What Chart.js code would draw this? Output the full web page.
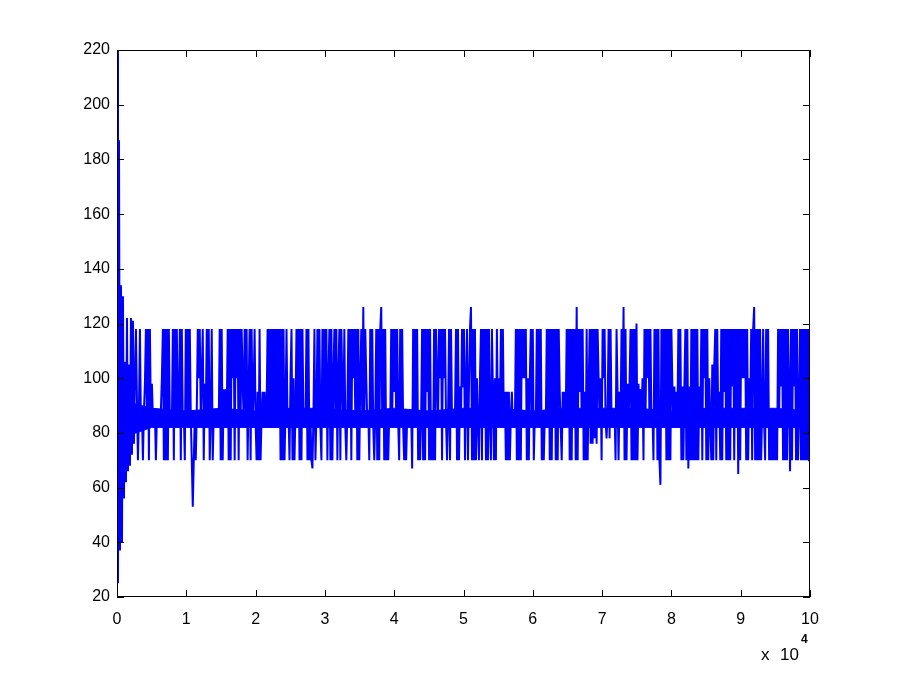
<!DOCTYPE html>
<html>
<head>
<meta charset="utf-8">
<script src="https://cdn.jsdelivr.net/npm/chart.js@4"></script>
<style>
  html, body { margin: 0; padding: 0; background: #fff; }
  canvas { display: block; }
</style>
</head>
<body>
<canvas id="plot" width="897" height="673"></canvas>
<script>
// samples, roughly one per pixel column (x 0 .. 10 x 10^4)
const signal = [
  220, 25, 187, 37, 134, 40, 130, 56, 106, 62, 122, 66, 105, 68, 122, 72, 121, 76, 100, 118,
  92, 70, 88, 118, 83, 88, 70, 88, 98, 118, 84, 118, 70, 118, 84, 98, 86, 82, 88, 70,
  86, 82, 88, 82, 88, 100, 118, 70, 118, 70, 118, 70, 118, 84, 88, 82, 118, 70, 118, 84,
  118, 82, 88, 118, 70, 118, 84, 88, 70, 118, 84, 118, 82, 118, 86, 70, 53, 70, 86, 70,
  88, 118, 100, 118, 86, 100, 118, 70, 98, 84, 118, 84, 118, 70, 86, 118, 70, 86, 82, 88,
  82, 88, 82, 118, 70, 118, 70, 96, 84, 96, 84, 118, 70,
  // 230 .. 350 px
  118, 70, 118, 100, 118, 70, 118, 100, 118, 70, 118, 86, 118, 100, 84, 118, 84, 118, 70, 95,
  118, 70, 118, 84, 95, 118, 84, 70, 95, 70, 118, 70, 86, 95, 82, 95, 82, 88, 118, 82,
  118, 82, 118, 82, 118, 82, 118, 82, 118, 82, 118, 70, 118, 70, 118, 70, 88, 118, 84, 88,
  70, 100, 118, 70, 100, 70, 88, 118, 82, 118, 70, 118, 70, 118, 84, 88, 82, 118, 70, 118,
  70, 86, 70, 67, 86, 118, 70, 86, 118, 84, 118, 82, 70, 118, 84, 118, 84, 118, 70, 100,
  118, 70, 118, 70, 100, 118, 84, 118, 70, 100, 118, 70, 118, 98, 84, 118, 82, 70, 88, 118, 84,
  // 351 .. 470 px
  118, 70, 118, 100, 118, 84, 118, 70, 118, 70, 100, 118, 84, 126, 84, 118, 100, 84, 88, 70,
  118, 84, 118, 82, 70, 86, 118, 70, 118, 70, 118, 126, 84, 118, 70, 118, 70, 86, 70, 86,
  82, 118, 84, 118, 95, 118, 84, 118, 84, 70, 118, 84, 118, 82, 70, 86, 70, 86, 82, 88,
  82, 88, 67, 118, 84, 118, 84, 118, 70, 86, 70, 86, 118, 70, 118, 70, 118, 95, 118, 70,
  118, 70, 86, 70, 118, 70, 118, 100, 84, 118, 100, 118, 70, 118, 100, 118, 84, 70, 86, 118,
  70, 118, 84, 88, 82, 88, 118, 70, 118, 70, 97, 84, 118, 97, 118, 70, 97, 118, 70, 97,
  // 471 .. 590 px
  118, 126, 70, 118, 70, 118, 70, 100, 84, 70, 100, 118, 70, 118, 84, 118, 70, 118, 70, 118,
  84, 70, 118, 95, 70, 100, 70, 118, 82, 100, 84, 118, 84, 118, 82, 95, 70, 95, 70, 95,
  70, 86, 95, 82, 88, 82, 118, 70, 118, 70, 118, 70, 118, 100, 118, 100, 118, 70, 100, 70,
  100, 118, 84, 118, 70, 86, 82, 118, 84, 118, 84, 118, 70, 86, 70, 86, 82, 118, 84, 118,
  70, 118, 70, 118, 84, 118, 70, 118, 70, 118, 95, 82, 70, 95, 82, 95, 84, 118, 84, 118,
  70, 118, 70, 118, 84, 118, 70, 126, 70, 118, 95, 118, 84, 118, 70, 95, 70, 118, 70, 95,
  // 591 .. 702 px
  118, 76, 118, 76, 118, 78, 118, 76, 118, 100, 84, 100, 70, 118, 100, 118, 84, 78, 88, 118,
  78, 118, 84, 88, 82, 88, 70, 118, 95, 70, 95, 84, 118, 84, 126, 70, 118, 70, 98, 84,
  98, 118, 70, 118, 70, 118, 70, 120, 70, 98, 84, 96, 84, 100, 70, 118, 84, 118, 100, 118,
  84, 118, 82, 88, 70, 118, 84, 118, 70, 118, 70, 61, 118, 84, 118, 84, 118, 70, 118, 70,
  118, 70, 118, 97, 82, 97, 82, 95, 84, 118, 84, 118, 70, 97, 70, 97, 118, 70, 118, 67,
  97, 70, 118, 70, 118, 70, 118, 70, 118, 70, 97, 84,
  // 703 .. 810 px
  118, 70, 118, 100, 118, 70, 118, 70, 100, 84, 70, 105, 70, 105, 118, 70, 118, 84, 95, 70,
  118, 70, 118, 95, 118, 70, 118, 70, 118, 70, 118, 97, 118, 70, 118, 84, 118, 65, 118, 70,
  118, 100, 118, 100, 118, 70, 118, 70, 100, 84, 118, 70, 118, 126, 70, 118, 70, 118, 70, 118,
  70, 88, 118, 84, 70, 118, 84, 118, 70, 86, 70, 86, 70, 88, 70, 86, 70, 118, 84, 118,
  97, 118, 70, 118, 70, 118, 70, 118, 97, 66, 118, 70, 118, 97, 118, 70, 118, 70, 88, 118,
  70, 118, 70, 118, 70, 118, 70, 118, 70, 85
];

// dense core of the trace, read every 0.5 x 10^4 (x = 0.5 .. 10)
const coreX = [0.05, 0.5, 1, 1.5, 2, 2.5, 3, 3.5, 4, 4.5, 5, 5.5, 6, 6.5, 7, 7.5, 8, 8.5, 9, 9.5, 10];
const coreLow = [78, 82, 82, 82, 82, 82, 82, 82, 82, 82, 82, 82, 82, 82, 82, 82, 82, 82, 82, 82, 82];
const coreHigh = [92, 89, 88, 89, 88, 89, 89, 88, 89, 88, 89, 89, 88, 89, 89, 89, 88, 89, 89, 89, 88];

const xMax = 100000;
const xStep = 10000;   // axis labels are in units of 10^4
const yMin = 20;
const yMax = 220;
const yStep = 20;

const lineColor = '#0000ff';
const fontFamily = '"Liberation Sans", Arial, Helvetica, sans-serif';

const sampleStep = xMax / (signal.length - 1);
const points = signal.map((v, i) => ({ x: i * sampleStep, y: v }));
const lowPts = coreX.map((x, i) => ({ x: x * xStep, y: coreLow[i] }));
const highPts = coreX.map((x, i) => ({ x: x * xStep, y: coreHigh[i] }));

// MATLAB style box: frame on all sides, ticks pointing inward, x 10^4 note
const matlabBox = {
  id: 'matlabBox',
  afterDraw(chart) {
    const { ctx, chartArea: a, scales: { x, y } } = chart;
    const tick = 7;
    ctx.save();
    ctx.strokeStyle = '#000';
    ctx.lineWidth = 1;
    ctx.strokeRect(a.left + 0.5, a.top + 0.5, a.right - a.left - 1, a.bottom - a.top - 1);
    ctx.beginPath();
    x.ticks.forEach(t => {
      const px = Math.round(x.getPixelForValue(t.value)) + 0.5;
      ctx.moveTo(px, a.bottom); ctx.lineTo(px, a.bottom - tick);
      ctx.moveTo(px, a.top); ctx.lineTo(px, a.top + tick);
    });
    y.ticks.forEach(t => {
      const py = Math.round(y.getPixelForValue(t.value)) + 0.5;
      ctx.moveTo(a.left, py); ctx.lineTo(a.left + tick, py);
      ctx.moveTo(a.right, py); ctx.lineTo(a.right - tick, py);
    });
    ctx.stroke();
    ctx.fillStyle = '#000';
    ctx.textBaseline = 'alphabetic';
    ctx.textAlign = 'left';
    ctx.font = '17px ' + fontFamily;
    ctx.fillText('x', 761, 660);
    ctx.fillText('10', 780, 660);
    ctx.font = 'bold 12px ' + fontFamily;
    ctx.fillText('4', 801, 643);
    ctx.restore();
  }
};

new Chart(document.getElementById('plot'), {
  type: 'line',
  data: {
    datasets: [
      {
        data: lowPts,
        borderColor: lineColor,
        borderWidth: 1,
        pointRadius: 0,
        fill: false
      },
      {
        data: highPts,
        borderColor: lineColor,
        borderWidth: 1,
        backgroundColor: lineColor,
        pointRadius: 0,
        fill: '-1'
      },
      {
        data: points,
        borderColor: lineColor,
        borderWidth: 2,
        pointRadius: 0,
        tension: 0,
        fill: false
      }
    ]
  },
  options: {
    responsive: false,
    animation: false,
    events: [],
    layout: { padding: { top: 50, right: 87, bottom: 0, left: 0 } },
    plugins: {
      legend: { display: false },
      tooltip: { enabled: false }
    },
    scales: {
      x: {
        type: 'linear',
        min: 0,
        max: xMax,
        grid: { display: false },
        border: { display: false },
        ticks: {
          stepSize: xStep,
          padding: 5,
          maxRotation: 0,
          color: '#000',
          font: { family: fontFamily, size: 16 },
          callback: v => v / xStep
        },
        afterFit: s => { s.height = 76; }
      },
      y: {
        min: yMin,
        max: yMax,
        grid: { display: false, drawTicks: false },
        border: { display: false },
        ticks: {
          stepSize: yStep,
          padding: 7,
          color: '#000',
          font: { family: fontFamily, size: 16 }
        },
        afterFit: s => { s.width = 117; }
      }
    }
  },
  plugins: [matlabBox]
});
</script>
</body>
</html>
